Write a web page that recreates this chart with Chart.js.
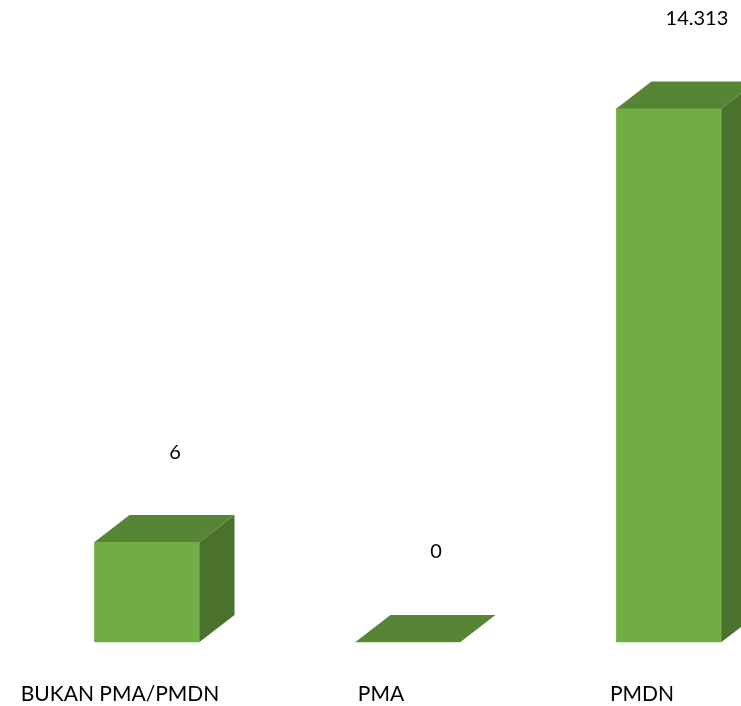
<!DOCTYPE html>
<html>
<head>
<meta charset="utf-8">
<script src="https://cdn.jsdelivr.net/npm/chart.js@4.4.1/dist/chart.umd.min.js"></script>
<style>
  html, body { margin: 0; padding: 0; background: #ffffff; overflow: hidden; }
  #wrap { width: 741px; height: 706px; position: relative; }
</style>
</head>
<body>
<div id="wrap"><canvas id="c" width="741" height="706"></canvas></div>
<script>
// ---- data ----
const categories = ['BUKAN PMA/PMDN', 'PMA', 'PMDN'];
const values = [6, 0, 14313];

// ---- style ----
const FRONT = '#70AD47';
const TOP = '#578536';
const SIDE = '#4A722C';
const DEPTH_X = 35;
const DEPTH_Y = 27;
const FONT = 'Lato, "Open Sans", sans-serif';

function fmt(v) {
  return String(v).replace(/\B(?=(\d{3})+(?!\d))/g, '.');
}

const bar3d = {
  id: 'bar3d',
  afterDatasetsDraw(chart) {
    const ctx = chart.ctx;
    const meta = chart.getDatasetMeta(0);
    ctx.save();
    meta.data.forEach((bar, i) => {
      const p = bar.getProps(['x', 'y', 'base', 'width'], true);
      const l = p.x - p.width / 2, r = p.x + p.width / 2;
      const top = p.y, base = p.base;
      // side face
      ctx.fillStyle = SIDE;
      ctx.beginPath();
      ctx.moveTo(r, top);
      ctx.lineTo(r + DEPTH_X, top - DEPTH_Y);
      ctx.lineTo(r + DEPTH_X, base - DEPTH_Y);
      ctx.lineTo(r, base);
      ctx.closePath();
      ctx.fill();
      // top face
      ctx.fillStyle = TOP;
      ctx.beginPath();
      ctx.moveTo(l, top);
      ctx.lineTo(l + DEPTH_X, top - DEPTH_Y);
      ctx.lineTo(r + DEPTH_X, top - DEPTH_Y);
      ctx.lineTo(r, top);
      ctx.closePath();
      ctx.fill();
      // value label
      ctx.fillStyle = '#000000';
      ctx.font = '20px ' + FONT;
      ctx.textAlign = 'center';
      ctx.textBaseline = 'middle';
      ctx.fillText(fmt(values[i]), p.x + 28, top - DEPTH_Y - 63);
    });
    ctx.restore();
  }
};

new Chart(document.getElementById('c'), {
  type: 'bar',
  data: {
    labels: categories,
    datasets: [{
      data: values,
      backgroundColor: FRONT,
      borderWidth: 0,
      barThickness: 105,
      clip: false
    }]
  },
  options: {
    responsive: false,
    animation: false,
    layout: { padding: { left: 147, right: 71, top: 0, bottom: 0 } },
    plugins: { legend: { display: false }, tooltip: { enabled: false } },
    scales: {
      x: {
        offset: false,
        grid: { display: false, drawTicks: false },
        border: { display: false },
        ticks: {
          color: '#000000',
          font: { family: FONT, size: 21 },
          padding: 40,
          labelOffset: -27,
          maxRotation: 0,
          autoSkip: false
        },
        afterFit: (s) => { s.height = 64; }
      },
      y: {
        type: 'logarithmic',
        display: false,
        min: 1,
        max: 100000
      }
    }
  },
  plugins: [bar3d]
});
</script>
</body>
</html>
